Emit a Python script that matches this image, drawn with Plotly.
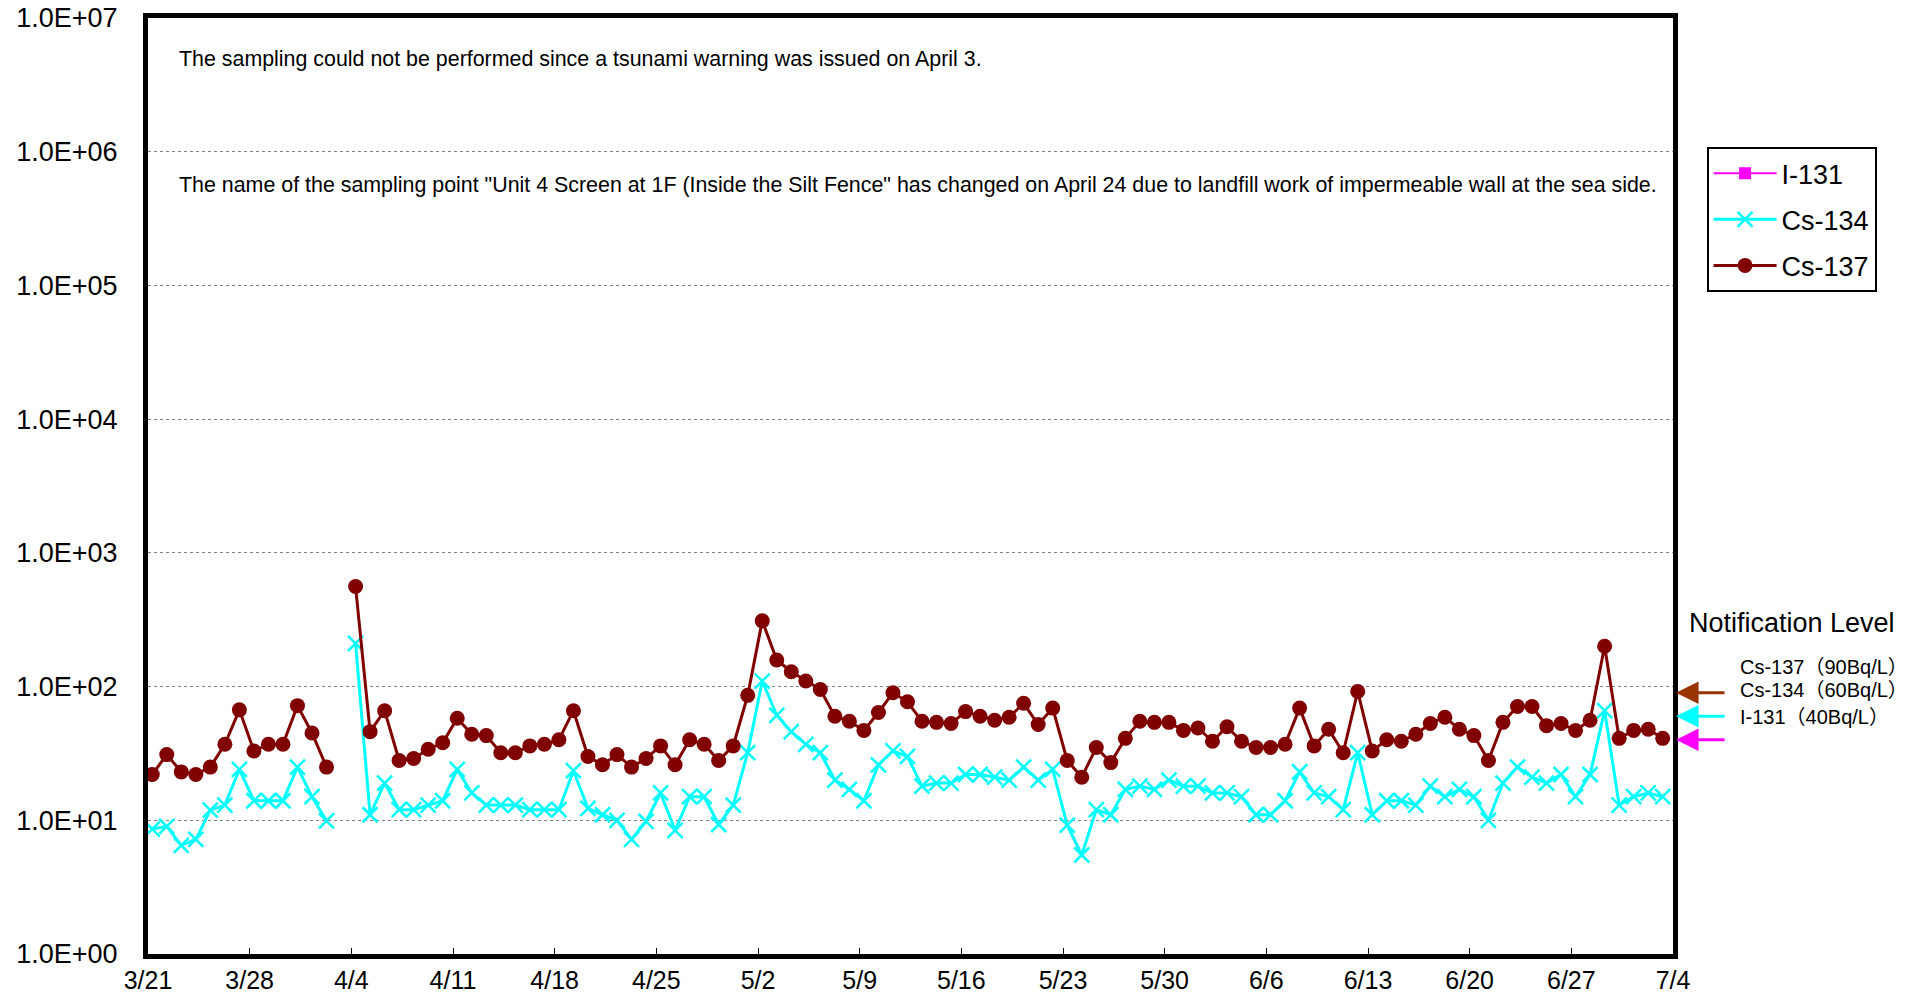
import math
import pandas as pd
import plotly.graph_objects as go

# ---- data -------------------------------------------------------------
START_DATE = "2011-03-21"
END_DATE = "2011-07-03"
SAMPLE_TIME_H = 7  # approximate sampling hour

cs137 = [22, 31, 23, 22, 25, 37, 67, 33, 37, 37, 72,
         45, 25, None, 560, 46, 66, 28, 29, 34, 38, 58, 44, 43, 32, 32, 36, 37, 40, 66, 30, 26, 31, 25, 29, 36, 26, 40, 37, 28, 36,
         86, 310, 158, 129, 110, 95, 60, 55, 47, 64, 90, 77, 55, 54, 53, 65, 60, 56, 59, 75, 52, 69, 28, 21, 35, 27, 41, 55, 54, 54, 47,
         49, 39, 50, 39, 35, 35, 37, 69, 36, 48, 32, 92, 33, 40, 39, 44, 53, 59, 48, 43, 28, 54, 71, 71, 51, 53, 47, 56, 200, 41,
         47, 48, 41]

cs134 = [8.6, 9.0, 6.5, 7.2, 11.9, 13, 24, 14, 14, 14, 25,
         15, 9.9, None, 210, 11, 19, 12, 12, 13, 14, 24, 16, 13, 13, 13, 12, 12, 12, 23.5, 12.3, 11, 10, 7.2, 9.8, 16, 8.4, 15, 15, 9.3, 13,
         32, 110, 61, 46, 37, 32, 20, 17, 14, 26, 33, 30, 18, 19, 19, 22, 22, 21, 20, 25, 20, 24, 9.2, 5.5, 12, 11, 17, 18, 17, 20, 18,
         18, 16, 16, 15, 11, 11, 14, 23, 16, 15, 12, 32, 11, 14, 14, 13, 18, 15, 17, 15, 10, 19, 25, 21, 19, 22, 15, 22, 66, 13,
         15, 16, 15]

i131 = [None] * len(cs137)  # not detected in this period

notif_labels = ["Cs-137（90Bq/L）", "Cs-134（60Bq/L）", "I-131（40Bq/L）"]
notif_levels = [90, 60, 40]
notif_colors = ["#993300", "#00FFFF", "#FF00FF"]

ytick_vals = [1, 10, 100, 1000, 10000, 100000, 1000000, 10000000]
ytick_text = ["1.0E+00", "1.0E+01", "1.0E+02", "1.0E+03", "1.0E+04", "1.0E+05", "1.0E+06", "1.0E+07"]

note1 = "The sampling could not be performed since a tsunami warning was issued on April 3."
note2 = ("The name of the sampling point \"Unit 4 Screen at 1F (Inside the Silt Fence\" has changed on April 24 "
         "due to landfill work of impermeable wall at the sea side.")

# ---- figure -----------------------------------------------------------
dates = pd.date_range(START_DATE, END_DATE, freq="D") + pd.Timedelta(hours=SAMPLE_TIME_H)

FONT = "Liberation Sans, Arial, Noto Sans CJK JP, sans-serif"

fig = go.Figure()
fig.add_trace(go.Scatter(
    x=dates, y=i131, name="I-131", mode="lines+markers", legendgroup="a",
    line=dict(color="#FF00FF", width=2),
    marker=dict(symbol="square", size=12, color="#FF00FF"),
    connectgaps=False))
fig.add_trace(go.Scatter(
    x=dates, y=cs134, name="Cs-134", mode="lines+markers", legendgroup="b",
    line=dict(color="#00FFFF", width=3),
    marker=dict(symbol="x-thin", size=15, line=dict(color="#00FFFF", width=2.5)),
    connectgaps=False))
fig.add_trace(go.Scatter(
    x=dates, y=cs137, name="Cs-137", mode="lines+markers", legendgroup="c",
    line=dict(color="#800000", width=3),
    marker=dict(symbol="circle", size=15, color="#800000"),
    connectgaps=False))

annotations = [
    dict(text=note1, xref="paper", yref="paper", x=0.019, y=0.9565, xanchor="left", yanchor="middle",
         showarrow=False, font=dict(size=21.4, color="black", family=FONT)),
    dict(text=note2, xref="paper", yref="paper", x=0.019, y=0.822, xanchor="left", yanchor="middle",
         showarrow=False, font=dict(size=21.4, color="black", family=FONT)),
    dict(text="Notification Level", xref="paper", yref="paper", x=1.078, y=0.3533, xanchor="center",
         yanchor="middle", showarrow=False, font=dict(size=27, color="black", family=FONT)),
]
label_y = [0.3063, 0.2821, 0.2535]
for lab, ly in zip(notif_labels, label_y):
    annotations.append(dict(text=lab, xref="paper", yref="paper", x=1.0426, y=ly, xanchor="left",
                            yanchor="middle", showarrow=False,
                            font=dict(size=20, color="black", family=FONT)))
for lvl, col in zip(notif_levels, notif_colors):
    annotations.append(dict(text="", xref="paper", yref="y", x=1.002, y=math.log10(lvl),
                            showarrow=True, axref="pixel", ayref="pixel", ax=50, ay=0,
                            arrowhead=2, arrowsize=1.5, arrowwidth=3, arrowcolor=col))

fig.update_layout(
    width=1917, height=1003,
    margin=dict(l=148, r=244, t=18, b=49, autoexpand=False),
    paper_bgcolor="white", plot_bgcolor="white",
    font=dict(family=FONT, color="black", size=26),
    showlegend=True,
    legend=dict(x=1.022, y=0.862, xanchor="left", yanchor="top",
                bordercolor="black", borderwidth=2, bgcolor="white",
                font=dict(size=27, family=FONT), tracegroupgap=8, itemwidth=63),
    annotations=annotations,
)
fig.update_xaxes(
    type="date", range=["2011-03-21", "2011-07-04"],
    tick0="2011-03-21", dtick=7 * 86400000, tickformat="%-m/%-d",
    ticks="inside", ticklen=6, tickcolor="black", tickwidth=1,
    showgrid=False, showline=True, linecolor="black", linewidth=5, mirror=True,
    tickfont=dict(size=25, family=FONT), zeroline=False, automargin=False,
    ticklabeloverflow="allow",
)
fig.update_yaxes(
    type="log", range=[0, 7], tickvals=ytick_vals, ticktext=ytick_text,
    ticks="", ticklabelstandoff=20, ticklabeloverflow="allow",
    showgrid=True, gridcolor="#808080", gridwidth=1, griddash="dot",
    showline=True, linecolor="black", linewidth=5, mirror=True,
    tickfont=dict(size=27, family=FONT), zeroline=False, automargin=False,
)

# remove the default page margin so the figure fills the window exactly
fig.write_html("out.html",
               config={"displayModeBar": False},
               post_script="document.body.style.margin='0';document.body.style.overflow='hidden';")
